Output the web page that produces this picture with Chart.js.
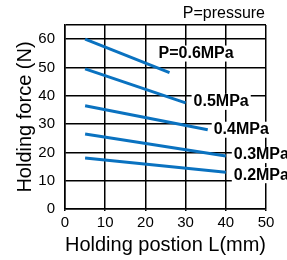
<!DOCTYPE html>
<html>
<head>
<meta charset="utf-8">
<script src="https://cdn.jsdelivr.net/npm/chart.js@4"></script>
<style>
  html, body { margin: 0; padding: 0; background: #fff; }
  #wrap { width: 287px; height: 260px; }
</style>
</head>
<body>
<div id="wrap"><canvas id="chart1"></canvas></div>
<script>
// pressure curves: holding force vs holding position
const seriesLabels = ['P=0.6MPa', '0.5MPa', '0.4MPa', '0.3MPa', '0.2MPa'];
const positionStart = [5, 5, 5, 5, 5];
const positionEnd = [26, 30, 35.5, 40, 40];
const forceStart = [60, 49.5, 36.5, 26.5, 18];
const forceEnd = [48.2, 37.5, 28, 18.7, 13];
const xTicks = [0, 10, 20, 30, 40, 50];
const yTicks = [0, 10, 20, 30, 40, 50, 60, 65];

const FONT = '"Liberation Sans", Arial, sans-serif';
const BLUE = '#0a72c0';

// label offsets (px) from the end of each line
const labelOffsets = [[-11, -19], [8, -1], [6, 0], [8, -1], [8, 3]];

const curveLabels = {
    id: 'curveLabels',
    afterDraw(chart) {
        const ctx = chart.ctx;
        const xs = chart.scales.x, ys = chart.scales.y;
        ctx.save();
        ctx.font = 'bold 16px ' + FONT;
        ctx.textBaseline = 'middle';
        ctx.textAlign = 'left';
        seriesLabels.forEach((txt, i) => {
            const px = xs.getPixelForValue(positionEnd[i]) + labelOffsets[i][0];
            const py = ys.getPixelForValue(forceEnd[i]) + labelOffsets[i][1];
            const w = ctx.measureText(txt).width;
            ctx.fillStyle = '#fff';
            ctx.fillRect(px - 2, py - 8, w + 4, 16);
            ctx.fillStyle = '#000';
            ctx.fillText(txt, px, py);
        });
        // note at top right
        ctx.font = '16px ' + FONT;
        ctx.textAlign = 'right';
        ctx.fillText('P=pressure', chart.chartArea.right - 1, 14);
        ctx.restore();
    }
};

const ctx1 = document.getElementById('chart1').getContext('2d');
const chart1 = new Chart(ctx1, {
    type: 'line',
    data: {
        datasets: seriesLabels.map((label, i) => ({
            label: label,
            data: [
                { x: positionStart[i], y: forceStart[i] },
                { x: positionEnd[i], y: forceEnd[i] }
            ],
            borderColor: BLUE,
            borderWidth: 3,
            pointRadius: 0,
            fill: false,
            tension: 0
        }))
    },
    options: {
        responsive: true,
        maintainAspectRatio: false,
        animation: false,
        layout: { padding: { left: 0, right: 21, top: 25, bottom: 0 } },
        plugins: {
            legend: { display: false },
            tooltip: { enabled: false }
        },
        scales: {
            x: {
                type: 'linear',
                min: 0,
                max: 50,
                afterBuildTicks: (scale) => { scale.ticks = xTicks.map(v => ({ value: v })); },
                afterFit: (scale) => { scale.height = 51; },
                grid: { color: '#000', lineWidth: 1.5, drawTicks: true, tickLength: 2 },
                border: { color: '#000', width: 1.5 },
                ticks: { color: '#000', font: { family: FONT, size: 15 }, padding: 3, maxRotation: 0 },
                title: {
                    display: true,
                    text: 'Holding postion L(mm)',
                    color: '#000',
                    font: { family: FONT, size: 20 },
                    padding: { top: 0, bottom: 3 }
                }
            },
            y: {
                type: 'linear',
                min: 0,
                max: 65,
                afterBuildTicks: (scale) => { scale.ticks = yTicks.map(v => ({ value: v })); },
                afterFit: (scale) => { scale.width = 65; },
                grid: { color: '#000', lineWidth: 1.5, drawTicks: false },
                border: { color: '#000', width: 1.5 },
                ticks: {
                    color: '#000',
                    font: { family: FONT, size: 15 },
                    padding: 10,
                    callback: (v) => (v === 65 ? '' : v)
                },
                title: {
                    display: true,
                    text: 'Holding force (N)',
                    color: '#000',
                    font: { family: FONT, size: 20 },
                    padding: { top: 13, bottom: 0 }
                }
            }
        }
    },
    plugins: [curveLabels]
});
</script>
</body>
</html>
